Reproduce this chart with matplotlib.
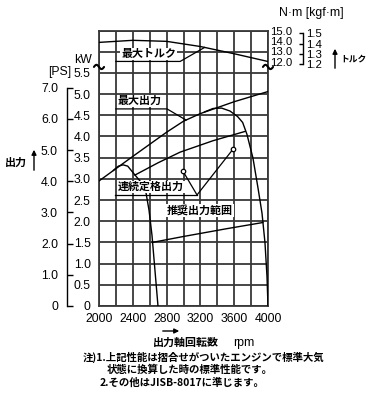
import numpy as np
import matplotlib
matplotlib.use('Agg')
import matplotlib.pyplot as plt
import matplotlib.patches as mpatches
from matplotlib.ticker import MultipleLocator

plt.rcParams['font.family'] = ['Liberation Sans', 'Noto Sans CJK JP', 'DejaVu Sans']

# ---------------- data ----------------
rpm_max = [2000, 2400, 2800, 3000, 3200, 3600, 4000]
kw_max = [2.95, 3.53, 4.10, 4.36, 4.54, 4.82, 5.06]

rpm_torque = [2000, 2400, 2800, 3200, 3600, 4000]
torque_nm = [13.85, 14.05, 13.95, 13.45, 12.75, 12.00]

rpm_cont = [2426, 2700, 2960, 3350, 3730]
kw_cont = [3.09, 3.38, 3.63, 3.90, 4.12]

rpm_gov_low = [2170, 2230, 2285, 2340, 2426, 2544, 2592, 2627, 2698]
kw_gov_low = [3.20, 3.30, 3.33, 3.30, 3.09, 2.81, 2.26, 1.67, 0.0]

rpm_gov_high = [3250, 3350, 3450, 3550, 3640, 3700, 3751, 3822, 3882, 3929, 3964, 3988, 4000]
kw_gov_high = [4.58, 4.66, 4.67, 4.60, 4.47, 4.33, 4.05, 3.49, 2.78, 2.19, 1.50, 0.70, 0.0]

rpm_rec_low = [2630, 3000, 3500, 3940]
kw_rec_low = [1.50, 1.64, 1.82, 1.97]

rpm_ticks = [2000, 2400, 2800, 3200, 3600, 4000]
kw_ticks = [0, 0.5, 1.0, 1.5, 2.0, 2.5, 3.0, 3.5, 4.0, 4.5, 5.0, 5.5, 6.0, 6.5]
kw_labels = ['0', '0.5', '1.0', '1.5', '2.0', '2.5', '3.0', '3.5', '4.0', '4.5', '5.0', '5.5', '', '']
ps_ticks = [0, 1, 2, 3, 4, 5, 6, 7]
ps_labels = ['0', '1.0', '2.0', '3.0', '4.0', '5.0', '6.0', '7.0']
nm_ticks = [12, 13, 14, 15]
nm_labels = ['12.0', '13.0', '14.0', '15.0']
kgf_ticks = [1.2, 1.3, 1.4, 1.5]
kgf_labels = ['1.2', '1.3', '1.4', '1.5']

KW_PER_PS = 0.7355
NM_PER_KGFM = 9.80665

# ---------------- figure ----------------
W, H = 366, 399
fig = plt.figure(figsize=(W / 100, H / 100), dpi=100)
L, R = 99 / W, 268 / W
B, T = (H - 306) / H, (H - 30.5) / H
ax = fig.add_axes([L, B, R - L, T - B])

GRID = '#383838'
ax.set_xlim(2000, 4000)
ax.set_ylim(0, 6.5)
ax.set_xticks(rpm_ticks)
ax.xaxis.set_minor_locator(MultipleLocator(200))
ax.set_yticks(kw_ticks)
ax.set_yticklabels(kw_labels)
ax.grid(which='both', color=GRID, lw=1.3)
ax.set_axisbelow(True)
for s in ax.spines.values():
    s.set_color(GRID)
    s.set_linewidth(1.3)
ax.tick_params(which='both', length=0, labelsize=8.8)
ax.tick_params(axis='y', pad=6)
ax.tick_params(axis='x', pad=5)

# curves
lw = 1.0
ax.plot(rpm_max, kw_max, color='black', lw=lw, zorder=3)
ax.plot(rpm_cont, kw_cont, color='black', lw=lw, zorder=3)
ax.plot(rpm_gov_low, kw_gov_low, color='black', lw=lw, zorder=3)
ax.plot(rpm_gov_high, kw_gov_high, color='black', lw=lw, zorder=3)
ax.plot(rpm_rec_low, kw_rec_low, color='black', lw=lw, zorder=3)

# PS secondary axis (left bracket)
ps_ax = ax.secondary_yaxis((67 - 99) / 169, functions=(lambda k: k / KW_PER_PS, lambda p: p * KW_PER_PS))
ps_ax.set_yticks(ps_ticks)
ps_ax.set_yticklabels(ps_labels)
ps_ax.spines['left'].set_bounds(0, 7)
ps_ax.spines['left'].set_linewidth(1.0)
ps_ax.tick_params(direction='in', length=4, width=1.0, labelsize=8.8, pad=6.5)

# torque twin axis
tax = ax.twinx()
tax.set_ylim(-11.66, 15)
tax.plot(rpm_torque, torque_nm, color='black', lw=lw, zorder=3)
tax.set_yticks(nm_ticks)
tax.set_yticklabels(nm_labels, family=['Liberation Sans Narrow', 'Liberation Sans'])
tax.tick_params(length=0, labelsize=8.2, pad=1.5)
for s in tax.spines.values():
    s.set_visible(False)

kgf_ax = tax.secondary_yaxis((303 - 99) / 169, functions=(lambda t: t / NM_PER_KGFM, lambda k: k * NM_PER_KGFM))
kgf_ax.set_yticks(kgf_ticks)
kgf_ax.set_yticklabels(kgf_labels)
kgf_ax.spines['right'].set_bounds(1.2, 1.5)
kgf_ax.spines['right'].set_linewidth(1.0)
kgf_ax.tick_params(direction='in', length=3, width=1.0, labelsize=8.2, pad=2)

# ---------------- annotations ----------------
jp = dict(family=['Noto Sans CJK JP', 'DejaVu Sans'], fontweight='bold', fontsize=7.9,
          color='black', zorder=6)
wbox = dict(facecolor='white', edgecolor='none', pad=0.6)

# 最大トルク
ax.text(2590, 5.94, '最大トルク', ha='center', va='center', bbox=wbox, **jp)
t_end_rpm = 3250
t_end = np.interp(t_end_rpm, rpm_torque, torque_nm)
t_end_kw = (t_end - (-11.66)) / (15 - (-11.66)) * 6.5
ax.plot([2200, 2960, t_end_rpm], [5.77, 5.77, t_end_kw], color='black', lw=0.9, zorder=6)

# 最大出力
ax.text(2485, 4.84, '最大出力', ha='center', va='center', bbox=wbox, **jp)
m_end_rpm = 3030
ax.plot([2200, 2805, m_end_rpm], [4.65, 4.65, np.interp(m_end_rpm, rpm_max, kw_max)],
        color='black', lw=0.9, zorder=6)

# 連続定格出力 + 推奨出力範囲 leader
ax.text(2615, 2.81, '連続定格出力', ha='center', va='center', bbox=wbox, **jp)
ax.plot([2190, 3160], [2.62, 2.62], color='black', lw=0.9, zorder=6)
ax.plot([2994, 3160, 3586], [3.18, 2.62, 3.70], color='black', lw=0.9, zorder=6)
ax.plot([2994, 3586], [3.18, 3.70], 'o', ms=3.2, mfc='white', mec='black', mew=0.9, zorder=7)
ax.text(3195, 2.25, '推奨出力範囲', ha='center', va='center', bbox=wbox, **jp)

# axis break marks (small tilde strokes on both borders)
tt = np.linspace(0, 2 * np.pi, 40)
for xa in (0.0, 1.0):
    ax.plot(xa - 0.03 + 0.06 * tt / (2 * np.pi), 5.64 + 0.05 * np.sin(tt),
            transform=ax.get_yaxis_transform(), color='black', lw=1.5,
            clip_on=False, zorder=7, solid_capstyle='round')

# ---------------- outer texts (figure pixel coords) ----------------
def fy(y):
    return H - y

num = dict(fontsize=8.8, color='black')
fig.text(83 / W, fy(60) / H, 'kW', ha='center', va='center', **num)
fig.text(60 / W, fy(72) / H, '[PS]', ha='center', va='center', **num)
fig.text(311 / W, fy(13) / H, 'N·m [kgf·m]', ha='center', va='center', **num)

jpo = dict(family=['Noto Sans CJK JP', 'DejaVu Sans'], fontweight='bold', fontsize=7.9, color='black')
fig.text(16 / W, fy(163) / H, '出力', ha='center', va='center', **jpo)
fig.text(340 / W, fy(59) / H, 'トルク', ha='left', va='center',
         family=['Noto Sans CJK JP', 'DejaVu Sans'], fontweight='bold', fontsize=6.3)

arrow = dict(arrowstyle='-|>', lw=1.0, color='black', mutation_scale=7)
fig.add_artist(mpatches.FancyArrowPatch((34, fy(173)), (34, fy(147)), transform=None, **arrow))
fig.add_artist(mpatches.FancyArrowPatch((335, fy(71)), (335, fy(46)), transform=None, **arrow))
fig.add_artist(mpatches.FancyArrowPatch((160, fy(331)), (182, fy(331)), transform=None, **arrow))

fig.text(186 / W, fy(343) / H, '出力軸回転数', ha='center', va='center', **jpo)
fig.text(244 / W, fy(343) / H, 'rpm', ha='center', va='center', fontsize=8.8)

notes = dict(family=['Noto Sans CJK JP', 'DejaVu Sans'], fontweight='bold', fontsize=7.5,
             color='black', ha='left', va='center')
fig.text(83 / W, fy(357) / H, '注)1.上記性能は摺合せがついたエンジンで標準大気', **notes)
fig.text(107 / W, fy(370) / H, '状態に換算した時の標準性能です。', **notes)
fig.text(100 / W, fy(383) / H, '2.その他はJISB-8017に準じます。', **notes)

fig.savefig('out.png', dpi=100)
